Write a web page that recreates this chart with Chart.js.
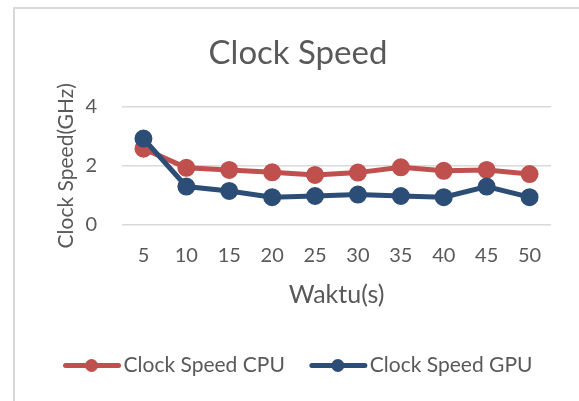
<!DOCTYPE html>
<html>
<head>
<meta charset="utf-8">
<script src="https://cdn.jsdelivr.net/npm/chart.js@4"></script>
<style>
  body { margin: 0; background: #fff; }
  #frame { position: absolute; left: 13px; top: 7px; right: 0; bottom: 0;
           border-top: 2px solid #d9d9d9; border-left: 2px solid #d9d9d9; }
  canvas { position: absolute; left: 0; top: 0; }
</style>
</head>
<body>
<div id="frame"></div>
<canvas id="myChart" width="579" height="401"></canvas>
<script>
var waktu = [5, 10, 15, 20, 25, 30, 35, 40, 45, 50];
var cpuSpeed = [2.58, 1.93, 1.86, 1.78, 1.69, 1.77, 1.95, 1.83, 1.86, 1.72];
var gpuSpeed = [2.92, 1.30, 1.15, 0.94, 0.98, 1.03, 0.98, 0.94, 1.30, 0.94];
var seriesNames = ["Clock Speed CPU", "Clock Speed GPU"];
var seriesColors = ["#C0504D", "#2C4D75"];
var judul = "Clock Speed";
var xAchse_Name = "Waktu(s)";
var yAchse_Name = "Clock Speed(GHz)";

var textColor = "#595959";
var fontName = "Lato";

// legend: line with a dot in the middle, like the office charts
var legendLines = {
  id: "legendLines",
  afterDraw: function (chart) {
    var ctx = chart.ctx;
    var boxes = chart.legend.legendHitBoxes;
    chart.legend.legendItems.forEach(function (item, i) {
      var b = boxes[i];
      var cy = b.top + b.height / 2;
      ctx.save();
      ctx.strokeStyle = item.lineColor;
      ctx.lineWidth = 5;
      ctx.lineCap = "round";
      ctx.beginPath();
      ctx.moveTo(b.left + 2, cy);
      ctx.lineTo(b.left + 55, cy);
      ctx.stroke();
      ctx.fillStyle = item.lineColor;
      ctx.beginPath();
      ctx.arc(b.left + 28, cy, 6.5, 0, Math.PI * 2);
      ctx.fill();
      ctx.restore();
    });
  },
};

new Chart("myChart", {
  type: "line",
  data: {
    labels: waktu,
    datasets: [
      {
        label: seriesNames[0],
        data: cpuSpeed,
        borderColor: seriesColors[0],
        backgroundColor: seriesColors[0],
        borderWidth: 5,
        pointRadius: 6.5,
        pointHoverRadius: 6.5,
        order: 2,
      },
      {
        label: seriesNames[1],
        data: gpuSpeed,
        borderColor: seriesColors[1],
        backgroundColor: seriesColors[1],
        borderWidth: 5,
        pointRadius: 6.5,
        pointHoverRadius: 6.5,
        order: 1,
      },
    ],
  },
  options: {
    responsive: false,
    animation: false,
    layout: { padding: { left: 31, right: 14, top: 0, bottom: 15 } },
    plugins: {
      title: {
        display: true,
        text: judul,
        color: textColor,
        font: { family: fontName, size: 33, weight: "normal" },
        padding: { top: 34, bottom: 33 },
      },
      legend: {
        position: "bottom",
        labels: {
          color: textColor,
          font: { family: fontName, size: 21 },
          boxWidth: 49.5,
          boxHeight: 4,
          padding: 25,
          generateLabels: function (chart) {
            return chart.data.datasets.map(function (ds, i) {
              return {
                text: ds.label,
                fillStyle: "rgba(0,0,0,0)",
                strokeStyle: "rgba(0,0,0,0)",
                lineWidth: 0,
                lineColor: ds.borderColor,
                fontColor: textColor,
                datasetIndex: i,
              };
            });
          },
        },
      },
      tooltip: { enabled: false },
    },
    scales: {
      x: {
        offset: true,
        grid: { display: false },
        border: { display: false },
        ticks: { color: textColor, font: { family: fontName, size: 20 }, padding: 11, maxRotation: 0 },
        title: {
          display: true,
          text: xAchse_Name,
          color: textColor,
          font: { family: fontName, size: 25 },
          padding: { top: 0, bottom: 20 },
        },
        afterFit: function (scale) { scale.height = 105; },
      },
      y: {
        min: 0,
        max: 4,
        grid: { color: "#d9d9d9", lineWidth: 1.5, drawTicks: false },
        border: { display: false },
        ticks: { stepSize: 2, color: textColor, font: { family: fontName, size: 20 }, padding: 25 },
        title: {
          display: true,
          text: yAchse_Name,
          color: textColor,
          font: { family: fontName, size: 21 },
          padding: { top: 23, bottom: 0 },
        },
        afterFit: function (scale) { scale.width = 91; },
      },
      // empty axis on the right, only keeps the plot away from the edge
      yRight: {
        position: "right",
        grid: { display: false },
        border: { display: false },
        ticks: { display: false },
        afterFit: function (scale) { scale.width = 14; },
      },
    },
  },
  plugins: [legendLines],
});
</script>
</body>
</html>
